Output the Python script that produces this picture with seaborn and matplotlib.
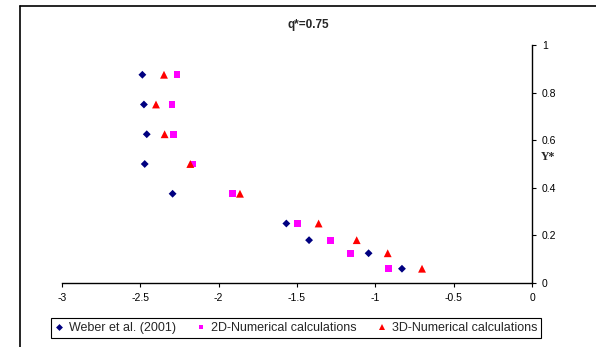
import matplotlib
matplotlib.use("Agg")
import matplotlib.pyplot as plt
import seaborn as sns
import pandas as pd
from matplotlib.lines import Line2D

# Data
y_star = [0.875, 0.75, 0.625, 0.5, 0.375, 0.25, 0.18, 0.125, 0.06]
weber_x = [-2.487, -2.477, -2.459, -2.472, -2.294, -1.568, -1.423, -1.043, -0.830]
num2d_x = [-2.266, -2.298, -2.287, -2.164, -1.911, -1.496, -1.288, -1.156, -0.915]
num3d_x = [-2.349, -2.400, -2.345, -2.181, -1.864, -1.362, -1.119, -0.921, -0.702]
series_names = ["Weber et al. (2001)", "2D-Numerical calculations", "3D-Numerical calculations"]
x_ticks = [-3, -2.5, -2, -1.5, -1, -0.5, 0]
y_ticks = [0, 0.2, 0.4, 0.6, 0.8, 1]

df = pd.DataFrame({
    "x": weber_x + num2d_x + num3d_x,
    "y": y_star * 3,
    "series": [series_names[0]] * 9 + [series_names[1]] * 9 + [series_names[2]] * 9,
})

sns.set_style("white")
plt.rcParams['font.family'] = ['Liberation Sans', 'DejaVu Sans']

fig = plt.figure(figsize=(5.96, 3.47), dpi=100)
ax = fig.add_axes([62/596, 1-283/347, (532-62)/596, (283-45)/347])

colors = {series_names[0]: "#000080", series_names[1]: "#FF00FF", series_names[2]: "#FF0000"}
markers = {series_names[0]: "D", series_names[1]: "s", series_names[2]: "^"}
sizes = {series_names[0]: 16, series_names[1]: 24, series_names[2]: 32}

for name in series_names:
    sub = df[df["series"] == name]
    sns.scatterplot(data=sub, x="x", y="y", ax=ax, color=colors[name],
                    marker=markers[name], s=sizes[name], edgecolor="none",
                    linewidth=0, legend=False)

ax.set_xlim(-3, 0)
ax.set_ylim(0, 1)
ax.set_xticks(x_ticks)
ax.set_xticklabels([f"{t:g}" for t in x_ticks])
ax.set_yticks(y_ticks)
ax.set_yticklabels([f"{t:g}" for t in y_ticks])
ax.yaxis.tick_right()
ax.set_xlabel("")
ax.set_ylabel("")
for s in ["top", "left"]:
    ax.spines[s].set_visible(False)
for s in ["bottom", "right"]:
    ax.spines[s].set_color("black")
    ax.spines[s].set_linewidth(1.0)
ax.tick_params(axis="both", which="major", direction="out", length=3, width=0.8,
               labelsize=7.5, colors="black", pad=4)
ax.tick_params(axis="x", bottom=True)
ax.tick_params(axis="y", right=True, left=False)

fig.text(308/596, 1-25/347, "q*=0.75", ha="center", va="center", fontsize=8.5,
         fontweight="bold")
fig.text(548/596, 1-157/347, "Y*", ha="center", va="center", fontsize=8.5,
         fontweight="bold", family=["Liberation Serif", "DejaVu Serif"])

handles = [Line2D([], [], linestyle="none", marker=markers[n], color=colors[n],
                  markersize=3.5 if n != series_names[2] else 4.2, markeredgewidth=0)
           for n in series_names]
leg = fig.legend(handles, series_names, loc="center", ncol=3,
                 bbox_to_anchor=(296/596, 1-328/347), frameon=True, fancybox=False,
                 fontsize=9, handlelength=0.8, handletextpad=0.4, columnspacing=1.6,
                 borderpad=0.3, edgecolor="black", framealpha=1)
leg.get_frame().set_linewidth(0.8)

# outer frame lines
fig.add_artist(Line2D([19.5/596, 19.5/596], [0, 1-5.7/347], color="black", lw=1.2,
                      transform=fig.transFigure))
fig.add_artist(Line2D([19.5/596, 1], [1-5.7/347, 1-5.7/347], color="black", lw=1.2,
                      transform=fig.transFigure))

fig.savefig("out.png", dpi=100)
